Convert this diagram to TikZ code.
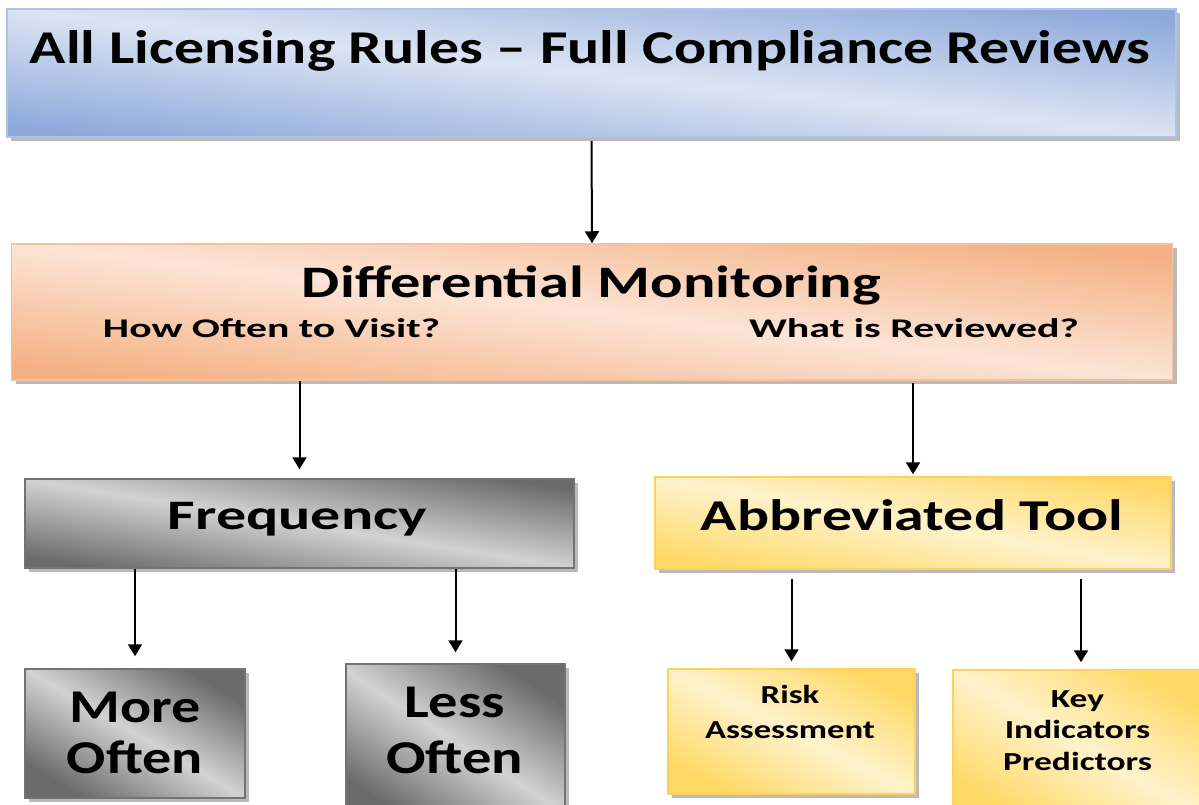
\documentclass[tikz,border=0pt]{standalone}
\usepackage{fontspec}
\setmainfont{Carlito}
\usepackage{graphicx}
\usepackage{tikz}
\usetikzlibrary{arrows.meta,shadows}

\definecolor{bluelight}{HTML}{DCE4F3}
\definecolor{bluedark}{HTML}{8EAADB}
\definecolor{orangelight}{HTML}{FCE4D6}
\definecolor{orangedark}{HTML}{F4B183}
\definecolor{graylight}{HTML}{D2D2D2}
\definecolor{graydark}{HTML}{6B6B6B}
\definecolor{yellowlight}{HTML}{FFF2CC}
\definecolor{yellowdark}{HTML}{FFD966}

% stretch a (multi-line) label sideways to a given width
\newcommand{\fitw}[2]{\resizebox{#1}{\height}{\begin{tabular}[t]{@{}c@{}}#2\end{tabular}}}

\begin{document}
\begin{tikzpicture}[x=1pt, y=-1pt]
  \useasboundingbox (0,0) rectangle (1199,804);
  \clip (0,0) rectangle (1199,804);
  \fill[white] (0,0) rectangle (1199,804);
  \tikzset{box/.style={rectangle, line width=1.5pt, inner sep=0pt,
      drop shadow={shadow xshift=4pt, shadow yshift=-4pt, fill=black!45, opacity=0.6}}}
  \tikzset{bluebox/.style={box, draw=bluedark!70!white, top color=bluedark, bottom color=bluedark, middle color=bluelight, shading angle=#1}}
  \tikzset{orangebox/.style={box, draw=orangedark!80!white, top color=orangedark, bottom color=orangedark, middle color=orangelight, shading angle=#1}}
  \tikzset{graybox/.style={box, draw=black!55, top color=graydark, bottom color=graydark, middle color=graylight, shading angle=#1}}
  \tikzset{yellowbox/.style={box, draw=yellowdark!90!orange, top color=yellowdark, bottom color=yellowdark, middle color=yellowlight, shading angle=#1}}
  \tikzset{boxtext/.style={anchor=base, inner sep=0pt, font=\fontsize{#1}{#1}\selectfont\bfseries}}

  \node[bluebox=-6.3, minimum width=1169pt, minimum height=128pt] (top) at (591.5, 73) {};
  \node[orangebox=-6.7, minimum width=1161pt, minimum height=136pt] (dm) at (592, 312) {};
  \node[graybox=-9.2, minimum width=549pt, minimum height=89pt] (freq) at (299.5, 523.5) {};
  \node[yellowbox=-10.1, minimum width=516pt, minimum height=92pt] (abbr) at (913, 523) {};
  \node[graybox=-30.4, minimum width=220pt, minimum height=129pt] (more) at (135, 733.5) {};
  \node[graybox=-33, minimum width=219pt, minimum height=156pt] (less) at (455.5, 742) {};
  \node[yellowbox=-26.8, minimum width=247pt, minimum height=125pt] (risk) at (791.5, 731.5) {};
  \node[yellowbox=-30.4, minimum width=256pt, minimum height=150pt] (key) at (1081, 745) {};

  % labels
  \node[boxtext=47] (toptitle) at (590, 63) {\fitw{1120pt}{All Licensing Rules – Full Compliance Reviews}};
  \node[boxtext=45] (dmtitle) at (591.5, 297) {\fitw{579pt}{Differential Monitoring}};
  \node[boxtext=27] (howoften) at (271.5, 337) {\fitw{337pt}{How Often to Visit?}};
  \node[boxtext=27] (whatreview) at (914, 337) {\fitw{330pt}{What is Reviewed?}};
  \node[boxtext=42] (freqtitle) at (297.5, 529) {\fitw{259pt}{Frequency}};
  \node[boxtext=44] (abbrtitle) at (912, 530) {\fitw{422pt}{Abbreviated Tool}};
  \node[boxtext=47, font=\fontsize{47}{51}\selectfont\bfseries] (moretitle) at (135, 722) {\fitw{136pt}{More\\Often}};
  \node[boxtext=47, font=\fontsize{47}{56}\selectfont\bfseries] (lesstitle) at (454.5, 717) {\fitw{137pt}{Less\\Often}};
  \node[boxtext=26, font=\fontsize{26}{35}\selectfont\bfseries] (risktitle) at (790, 703) {\fitw{170pt}{Risk\\Assessment}};
  \node[boxtext=26, font=\fontsize{26}{31.5}\selectfont\bfseries] (keytitle) at (1077.5, 707) {\fitw{149pt}{Key\\Indicators\\Predictors}};

  % arrows
  \tikzset{linkarrow/.style={-{Triangle[width=14pt,length=12pt]}, line width=2pt}}
  \path (top.south) edge [linkarrow, shorten <=3pt] (dm.north);
  \path (dm.south -| freq.north) edge [linkarrow, shorten >=9pt] (freq.north);
  \path (dm.south -| abbr.north) edge [linkarrow, shorten <=2pt, shorten >=2pt] (abbr.north);
  \path (freq.south -| more.north) edge [linkarrow, shorten >=12pt] (more.north);
  \path (freq.south -| less.north) edge [linkarrow, shorten >=11pt] (less.north);
  \path (abbr.south -| risk.north) edge [linkarrow, shorten <=9pt, shorten >=7pt] (risk.north);
  \path (abbr.south -| key.north) edge [linkarrow, shorten <=9pt, shorten >=7pt] (key.north);
\end{tikzpicture}
\end{document}
